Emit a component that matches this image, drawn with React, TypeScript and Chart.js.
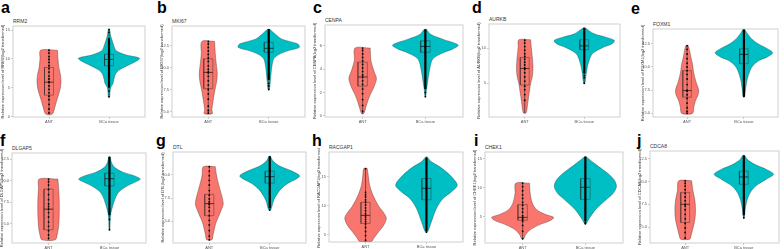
import React, { useEffect, useRef } from "react";
import { Chart, registerables } from "chart.js";

Chart.register(...registerables);

// ---------------- DATA ----------------
const genes = ["RRM2", "MKI67", "CENPA", "AURKB", "FOXM1", "DLGAP5", "DTL", "RACGAP1", "CHEK1", "CDCA8"];
const panelLetters = ["a", "b", "c", "d", "e", "f", "g", "h", "i", "j"];
const groupLabels = ["ANT", "BCa tissue"];

const yTicks: number[][] = [
  [0, 5, 10, 15], [5, 7.5, 10, 12.5], [0, 2, 4, 6], [5, 10], [5, 7.5, 10, 12.5],
  [5, 7.5, 10, 12.5], [5, 7.5, 10], [5, 10, 15], [5, 10, 15], [5, 7.5, 10, 12.5],
];
const yRange: number[][] = [
  [-0.1, 15.7], [4.36, 14.75], [-0.09, 7.77], [0.23, 13.4], [4.6, 14.1],
  [2.76, 13.24], [2.66, 12.45], [3.68, 19.3], [0.47, 16.2], [3.25, 13.35],
];

// ANT violin profile: y levels (top -> bottom) and half widths
const antViolinY: number[][] = [
  [11.5, 10.0, 8.5, 7.3, 6.2, 5.0, 4.0, 2.8, 1.7, 0.4],
  [12.99, 11.56, 10.44, 9.31, 8.38, 7.44, 6.32, 5.19, 4.74],
  [5.8, 4.74, 3.9, 3.19, 2.49, 1.93, 1.37, 0.81, 0.19],
  [11.17, 10.14, 9.21, 8.27, 7.1, 5.93, 5.0, 4.07, 3.13, 1.73, 0.79],
  [12.29, 11.79, 11.08, 10.36, 9.65, 8.94, 8.23, 7.52, 6.98, 6.45, 5.74, 4.99],
  [10.2, 9.15, 7.67, 6.18, 4.69, 3.76, 3.13],
  [10.87, 10.07, 9.37, 8.32, 6.92, 6.22, 5.52, 4.83, 4.13, 3.43, 3.01],
  [16.44, 15.29, 13.56, 11.84, 9.83, 8.68, 7.82, 6.67, 5.52, 4.37, 3.79],
  [10.8, 9.03, 7.38, 6.27, 5.44, 4.89, 4.34, 3.78, 3.23, 2.68, 1.85, 1.19],
  [10.08, 9.01, 7.94, 6.88, 5.81, 4.74, 4.03, 3.67],
];
const antViolinW: number[][] = [
  [0.14, 0.15, 0.165, 0.19, 0.2, 0.19, 0.165, 0.13, 0.1, 0.055],
  [0.105, 0.116, 0.132, 0.149, 0.138, 0.11, 0.083, 0.06, 0.066],
  [0.121, 0.132, 0.176, 0.22, 0.182, 0.132, 0.088, 0.055, 0.017],
  [0.099, 0.11, 0.121, 0.132, 0.138, 0.127, 0.099, 0.083, 0.066, 0.044, 0.022],
  [0.022, 0.044, 0.066, 0.094, 0.11, 0.132, 0.165, 0.204, 0.193, 0.154, 0.121, 0.094],
  [0.154, 0.165, 0.176, 0.176, 0.165, 0.143, 0.11],
  [0.099, 0.116, 0.138, 0.182, 0.231, 0.198, 0.154, 0.11, 0.083, 0.06, 0.044],
  [0.028, 0.044, 0.066, 0.121, 0.22, 0.303, 0.341, 0.303, 0.22, 0.138, 0.099],
  [0.11, 0.121, 0.154, 0.22, 0.358, 0.495, 0.44, 0.303, 0.193, 0.11, 0.044, 0.017],
  [0.11, 0.132, 0.165, 0.176, 0.165, 0.127, 0.099, 0.077],
];

// Tumour violin profile
const tumViolinY: number[][] = [
  [15.1, 14.0, 13.1, 12.2, 11.4, 10.7, 10.1, 9.5, 8.8, 8.1, 7.4, 6.5, 5.7, 5.0, 4.2, 3.4],
  [14.37, 13.81, 13.25, 12.69, 12.31, 11.94, 11.49, 11.0, 10.25, 9.69, 8.56, 7.51],
  [7.4, 6.98, 6.56, 6.06, 5.72, 5.44, 4.88, 3.9, 2.77, 2.21, 1.65],
  [12.85, 12.01, 11.54, 11.07, 10.61, 10.14, 9.21, 7.8, 6.4, 5.0],
  [14.1, 13.57, 13.03, 12.5, 11.97, 11.54, 11.08, 10.72, 10.19, 9.65, 8.59, 7.52, 6.81],
  [12.8, 12.13, 11.57, 11.01, 10.57, 10.2, 9.82, 9.34, 8.78, 8.22, 7.11, 6.18, 5.25, 4.32],
  [11.99, 11.47, 10.94, 10.42, 9.9, 9.55, 9.09, 8.32, 7.27, 6.22],
  [18.45, 17.59, 16.72, 15.29, 13.56, 12.41, 11.26, 9.54, 7.24, 5.4],
  [15.39, 14.28, 13.18, 12.35, 11.24, 10.14, 9.03, 7.93, 6.27, 4.61, 3.78],
  [12.86, 12.39, 11.86, 11.33, 10.79, 10.26, 9.72, 9.19, 8.66, 7.94, 6.88, 5.99],
];
const tumViolinW: number[][] = [
  [0.011, 0.028, 0.055, 0.083, 0.121, 0.275, 0.51, 0.44, 0.303, 0.176, 0.11, 0.083, 0.066, 0.028, 0.017, 0.011],
  [0.017, 0.11, 0.22, 0.484, 0.506, 0.33, 0.165, 0.083, 0.055, 0.044, 0.028, 0.011],
  [0.017, 0.083, 0.275, 0.523, 0.44, 0.303, 0.121, 0.066, 0.033, 0.017, 0.006],
  [0.017, 0.165, 0.358, 0.506, 0.468, 0.33, 0.138, 0.066, 0.033, 0.011],
  [0.011, 0.066, 0.138, 0.248, 0.413, 0.506, 0.413, 0.275, 0.165, 0.11, 0.055, 0.028, 0.011],
  [0.011, 0.033, 0.083, 0.22, 0.413, 0.506, 0.413, 0.275, 0.165, 0.11, 0.055, 0.022, 0.011, 0.006],
  [0.011, 0.055, 0.165, 0.358, 0.495, 0.44, 0.303, 0.165, 0.066, 0.017],
  [0.011, 0.083, 0.22, 0.385, 0.506, 0.413, 0.275, 0.165, 0.083, 0.017],
  [0.011, 0.138, 0.275, 0.374, 0.468, 0.495, 0.44, 0.33, 0.165, 0.055, 0.011],
  [0.017, 0.066, 0.193, 0.385, 0.506, 0.385, 0.248, 0.154, 0.099, 0.055, 0.022, 0.006],
];

// Box stats [q1, median, q3] and whiskers [low, high]
const antBox: number[][] = [
  [3.7, 5.95, 8.5], [7.6, 9.45, 11.0], [2.55, 3.33, 4.6], [4.77, 7.1, 8.64], [6.74, 7.45, 9.6],
  [4.3, 6.7, 9.04], [5.6, 6.9, 7.9], [6.9, 8.3, 10.57], [4.4, 4.9, 7.1], [5.5, 7.5, 8.8],
];
const antWhisker: number[][] = [
  [0.4, 11.5], [4.74, 12.99], [0.19, 5.8], [0.8, 11.17], [5.0, 12.3],
  [3.13, 10.2], [3.0, 10.87], [3.8, 16.4], [1.2, 10.8], [3.67, 10.08],
];
const tumBox: number[][] = [
  [8.8, 9.9, 10.8], [11.75, 12.2, 12.9], [5.44, 5.94, 6.42], [9.77, 10.3, 11.17], [10.36, 11.36, 11.96],
  [9.4, 10.25, 10.9], [9.1, 9.8, 10.4], [11.0, 13.0, 14.7], [8.0, 10.1, 11.6], [9.7, 10.5, 11.15],
];
const tumWhisker: number[][] = [
  [3.4, 15.1], [7.5, 14.4], [1.65, 7.4], [5.0, 12.85], [6.8, 14.1],
  [4.32, 12.8], [6.2, 12.0], [5.4, 18.45], [3.8, 15.4], [6.0, 12.86],
];
// range where tumour sample points are packed into a solid column
const tumDense: number[][] = [
  [5.0, 13.6], [8.6, 14.4], [2.3, 7.4], [6.4, 12.85], [6.8, 14.0],
  [6.0, 12.8], [6.4, 12.0], [5.6, 18.3], [4.2, 15.4], [6.3, 12.86],
];
const tumPoints: number[][] = [
  [15.1, 14.6, 4.4, 3.4], [7.5, 7.9, 8.2], [1.65, 2.0], [5.0, 5.8, 6.1], [6.8, 7.0],
  [4.3, 5.5], [6.2], [5.4], [3.8, 4.0], [6.0],
];
const antPoints: number[][] = [
  [11.5, 11.0, 10.4, 9.9, 9.4, 8.8, 8.3, 7.7, 7.0, 6.5, 6.0, 5.9, 5.3, 4.7, 4.1, 3.5, 2.9, 2.1, 1.3, 0.6],
  [13.0, 12.7, 12.3, 11.9, 11.5, 11.1, 10.7, 10.2, 9.8, 9.5, 9.4, 9.0, 8.5, 8.0, 7.5, 7.0, 6.4, 5.6, 5.1, 4.8],
  [5.8, 5.6, 5.3, 5.0, 4.7, 4.4, 4.1, 3.8, 3.5, 3.3, 3.0, 2.7, 2.3, 1.9, 1.4, 0.9, 0.4],
  [11.1, 10.7, 10.2, 9.7, 9.2, 8.8, 8.4, 8.0, 7.6, 7.2, 7.0, 6.5, 5.9, 5.3, 4.6, 4.1, 3.4, 2.6],
  [12.3, 11.9, 11.4, 10.9, 10.4, 10.0, 9.6, 9.2, 8.7, 8.1, 7.5, 7.4, 7.0, 6.6, 6.1, 5.6, 5.2, 5.0],
  [10.2, 9.9, 9.5, 9.0, 8.4, 7.8, 7.3, 7.0, 6.7, 6.3, 5.8, 5.2, 4.7, 4.2, 3.7, 3.3],
  [10.87, 10.4, 9.9, 9.4, 8.9, 8.3, 7.8, 7.4, 7.1, 6.9, 6.8, 6.5, 6.1, 5.6, 5.1, 4.6, 4.0, 3.4, 3.0],
  [16.4, 12.3, 11.9, 11.5, 11.0, 10.6, 10.1, 9.6, 9.1, 8.6, 8.3, 8.0, 7.6, 7.2, 6.8, 6.2, 5.5, 4.8, 4.0],
  [10.8, 10.2, 9.5, 8.8, 8.2, 7.5, 7.0, 6.4, 5.8, 5.2, 4.9, 4.8, 4.5, 4.2, 3.5, 2.5, 1.2],
  [10.08, 9.8, 9.5, 9.1, 8.7, 8.3, 7.9, 7.5, 7.3, 6.9, 6.4, 5.9, 5.4, 4.9, 4.4, 3.8],
];

// ---------------- LAYOUT ----------------
// plot area [left, right, top, bottom] in page pixels
const plotBoxes = [
  [13, 147, 25, 117], [172, 307, 25, 117], [325, 465, 24, 117], [489, 622, 23, 117], [653, 780, 28, 117],
  [12, 148, 152, 243], [173, 308, 151, 243], [329, 465, 151, 242], [485, 625, 151, 243], [650, 781, 150, 243],
];
const letterPos = [
  [1, 13], [157, 13], [313, 13], [472, 13], [631, 14],
  [0, 146], [156, 146], [312, 146], [474, 146], [637, 146],
];
const Y_AXIS_W = 13;
const X_AXIS_H = 7;
const PAD_TOP = 3;
const PAD_RIGHT = 2;

const ANT_COLOR = "#F8766D";
const TUM_COLOR = "#00BFC4";
const FONT = "'Liberation Sans', Arial, sans-serif";
const BOX_HW = 0.075;

function violinPolygon(center: number, ys: number[], ws: number[]) {
  const right = ys.map((y, i) => ({ x: center + ws[i], y }));
  const left = ys.map((y, i) => ({ x: center - ws[i], y })).reverse();
  return [...right, ...left, right[0]];
}
function boxPolygon(center: number, b: number[]) {
  return [
    { x: center - BOX_HW, y: b[0] }, { x: center + BOX_HW, y: b[0] },
    { x: center + BOX_HW, y: b[2] }, { x: center - BOX_HW, y: b[2] },
    { x: center - BOX_HW, y: b[0] },
  ];
}

const frame = {
  id: "frame",
  beforeDatasetsDraw(chart: any) {
    const { ctx, chartArea: a } = chart;
    ctx.save();
    ctx.strokeStyle = "#c4c4c4";
    ctx.lineWidth = 0.8;
    ctx.strokeRect(a.left, a.top, a.right - a.left, a.bottom - a.top);
    ctx.restore();
  },
};

function Panel({ idx }: { idx: number }) {
  const ref = useRef<HTMLCanvasElement>(null);
  const [L, R, T, B] = plotBoxes[idx];
  const width = R - L + Y_AXIS_W + PAD_RIGHT;
  const height = B - T + PAD_TOP + X_AXIS_H;

  useEffect(() => {
    if (!ref.current) return;
    const ticks = yTicks[idx];
    const decimal = ticks.some((t) => !Number.isInteger(t));
    const line = (data: any[], color: string, w: number, order: number, extra: any = {}) => ({
      type: "line",
      data,
      borderColor: color,
      borderWidth: w,
      pointRadius: 0,
      fill: false,
      tension: 0,
      order,
      ...extra,
    });
    const datasets: any[] = [
      line(violinPolygon(1, antViolinY[idx], antViolinW[idx]), "rgba(70,40,40,0.75)", 0.5, 10, {
        fill: "shape", backgroundColor: ANT_COLOR, tension: 0.3,
      }),
      line(violinPolygon(2, tumViolinY[idx], tumViolinW[idx]), "rgba(20,60,60,0.75)", 0.5, 10, {
        fill: "shape", backgroundColor: TUM_COLOR, tension: 0.3,
      }),
      line([{ x: 1, y: antWhisker[idx][0] }, { x: 1, y: antWhisker[idx][1] }], "#222", 0.6, 8),
      line([{ x: 2, y: tumWhisker[idx][0] }, { x: 2, y: tumWhisker[idx][1] }], "#222", 0.6, 8),
      line(boxPolygon(1, antBox[idx]), "rgba(40,40,40,0.8)", 0.5, 7),
      line(boxPolygon(2, tumBox[idx]), "rgba(40,40,40,0.8)", 0.5, 7),
      line([{ x: 1 - BOX_HW, y: antBox[idx][1] }, { x: 1 + BOX_HW, y: antBox[idx][1] }], "#111", 0.7, 6),
      line([{ x: 2 - BOX_HW, y: tumBox[idx][1] }, { x: 2 + BOX_HW, y: tumBox[idx][1] }], "#111", 0.7, 6),
      line([{ x: 2, y: tumDense[idx][0] }, { x: 2, y: tumDense[idx][1] }], "#000", 2.2, 5),
      {
        type: "scatter",
        data: antPoints[idx].map((y) => ({ x: 1, y })),
        pointRadius: 0.9,
        pointBackgroundColor: "#000",
        pointBorderWidth: 0,
        order: 1,
      },
      {
        type: "scatter",
        data: tumPoints[idx].map((y) => ({ x: 2, y })),
        pointRadius: 0.9,
        pointBackgroundColor: "#000",
        pointBorderWidth: 0,
        order: 1,
      },
    ];

    const chart = new Chart(ref.current, {
      type: "scatter",
      data: { datasets },
      options: {
        animation: false,
        responsive: false,
        maintainAspectRatio: false,
        layout: { padding: { top: PAD_TOP, right: PAD_RIGHT, left: 0, bottom: 0 } },
        plugins: { legend: { display: false }, tooltip: { enabled: false }, title: { display: false } },
        scales: {
          x: {
            type: "linear",
            min: 0.4,
            max: 2.6,
            afterBuildTicks: (s: any) => {
              s.ticks = [{ value: 1 }, { value: 2 }];
            },
            afterFit: (s: any) => {
              s.height = X_AXIS_H;
            },
            ticks: {
              autoSkip: false,
              maxRotation: 0,
              padding: 0,
              color: "#555",
              font: { size: 4, family: FONT },
              callback: (v: any) => groupLabels[Math.round(Number(v)) - 1] ?? "",
            },
            grid: { drawOnChartArea: false, tickLength: 2, color: "#999", lineWidth: 0.5 },
            border: { display: false },
          },
          y: {
            type: "linear",
            min: yRange[idx][0],
            max: yRange[idx][1],
            afterBuildTicks: (s: any) => {
              s.ticks = ticks.map((v) => ({ value: v }));
            },
            afterFit: (s: any) => {
              s.width = Y_AXIS_W;
            },
            ticks: {
              padding: 1,
              color: "#555",
              font: { size: 4, family: FONT },
              callback: (v: any) => (decimal ? Number(v).toFixed(1) : String(v)),
            },
            grid: { drawOnChartArea: false, tickLength: 2, color: "#999", lineWidth: 0.5 },
            border: { display: false },
            title: {
              display: true,
              text: `Relative expression level of ${genes[idx]}(log2 transformed)`,
              font: { size: 4, family: FONT },
              color: "#333",
              padding: 0,
            },
          },
        },
      } as any,
      plugins: [frame],
    } as any);
    return () => chart.destroy();
  }, [idx]);

  const [lx, lb] = letterPos[idx];
  return (
    <>
      <div
        style={{
          position: "absolute",
          left: lx,
          top: lb - 13,
          fontFamily: FONT,
          fontWeight: 700,
          fontSize: 16,
          lineHeight: "16px",
          color: "#000",
        }}
      >
        {panelLetters[idx]}
      </div>
      <div
        style={{
          position: "absolute",
          left: L,
          top: T - 7,
          fontFamily: FONT,
          fontSize: 5,
          lineHeight: "6px",
          color: "#333",
          whiteSpace: "nowrap",
        }}
      >
        {genes[idx]}
      </div>
      <canvas
        ref={ref}
        width={width}
        height={height}
        style={{ position: "absolute", left: L - Y_AXIS_W, top: T - PAD_TOP, width, height }}
      />
    </>
  );
}

export default function App() {
  return (
    <div
      style={{
        position: "fixed",
        left: 0,
        top: 0,
        width: 784,
        height: 249,
        background: "#fff",
        overflow: "hidden",
      }}
    >
      {genes.map((_, i) => (
        <Panel key={i} idx={i} />
      ))}
    </div>
  );
}
